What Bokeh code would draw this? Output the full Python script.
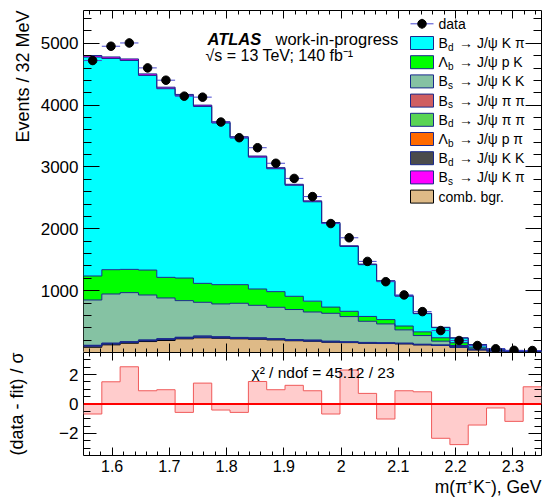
import math
import numpy as np
from bokeh.plotting import figure
from bokeh.models import (Range1d, LinearAxis, FixedTicker, Label, Span, Title,
                          CustomJSTickFormatter)
from bokeh.layouts import column
from bokeh.embed import file_html
from bokeh.resources import INLINE

# ---------------- data ----------------
bin_edges = [1.550, 1.582, 1.614, 1.646, 1.678, 1.710, 1.742, 1.774, 1.806, 1.838,
             1.870, 1.902, 1.934, 1.966, 1.998, 2.030, 2.062, 2.094, 2.126, 2.158,
             2.190, 2.222, 2.254, 2.286, 2.318, 2.350]
data_counts = [4721, 4952, 5005, 4602, 4403, 4145, 4129, 3726, 3473, 3311,
               3060, 2815, 2521, 2085, 1855, 1473, 1145, 931, 661, 355,
               194, 113, 60, 35, 32]
comb_bgr = [85, 124, 150, 177, 194, 221, 237, 231, 221, 215, 204, 190, 183, 167, 160,
            150, 145, 140, 124, 113, 86, 43, 26, 16, 10]
bd_jpsi_kk = [18, 14, 12, 12, 14, 10, 8, 6, 6, 6, 5, 5, 4, 4, 3, 3, 3, 2, 2, 2, 1, 1, 1, 0, 0]
lb_jpsi_ppi = [4, 4, 4, 4, 4, 4, 4, 4, 3, 3, 3, 3, 3, 2, 2, 2, 2, 2, 1, 1, 1, 1, 0, 0, 0]
bd_jpsi_pipi = [6, 6, 6, 6, 8, 8, 14, 10, 10, 10, 9, 8, 8, 7, 6, 6, 5, 5, 4, 3, 3, 2, 1, 1, 0]
bs_jpsi_pipi = [4, 4, 4, 4, 4, 4, 4, 4, 4, 4, 3, 3, 3, 3, 3, 2, 2, 2, 2, 1, 1, 1, 0, 0, 0]
bs_jpsi_kk = [732, 794, 792, 727, 658, 592, 545, 530, 552, 525, 507, 486, 454, 451, 407,
              342, 305, 215, 141, 63, 21, 12, 6, 3, 2]
lb_jpsi_pk = [388, 393, 376, 403, 333, 365, 306, 312, 301, 264, 253, 214, 175, 100, 85,
              78, 70, 62, 60, 55, 45, 26, 11, 5, 3]
bd_jpsi_kpi = [3540, 3415, 3378, 3147, 3050, 2947, 2860, 2614, 2372, 2132, 1987, 1795, 1607,
               1354, 1048, 837, 620, 483, 294, 165, 76, 41, 14, 1, 1]
bs_jpsi_kpi = [25, 25, 25, 25, 25, 22, 22, 20, 20, 18, 18, 16, 15, 14, 12, 10, 9, 8, 6, 5,
               3, 2, 1, 1, 0]
pulls = [-0.68, 1.51, 2.53, 0.90, 0.97, -0.57, 1.42, -0.41, -0.57, 1.53, 0.97, 1.27, 0.90,
         -0.68, 2.31, 0.72, -1.02, 0.90, 0.83, -2.33, -2.76, -1.43, -0.27, -1.18, 1.17]

x_major_ticks = [1.6, 1.7, 1.8, 1.9, 2.0, 2.1, 2.2, 2.3]
y_major_ticks_top = [1000, 2000, 3000, 4000, 5000]
y_major_ticks_bot = [-2, 0, 2]

legend_main = ["B", "Λ", "B", "B", "B", "Λ", "B", "B", "comb. bgr."]
legend_sub = ["d", "b", "s", "s", "d", "b", "d", "s", ""]
legend_rest = ["→ J/ψ K π", "→ J/ψ p K", "→ J/ψ K K", "→ J/ψ π π", "→ J/ψ π π",
               "→ J/ψ p π", "→ J/ψ K K", "→ J/ψ K π", ""]
chi2_text = "χ² / ndof = 45.12 / 23"

# ---------------- style / layout ----------------
FONT = "Liberation Sans"
NAVY = "#1a2a8c"
ERR_BLUE = "#4848d0"
X_MIN, X_MAX = bin_edges[0], bin_edges[-1]
Y_MAX = 5530
FW, FH_TOP, FH_BOT = 458, 342, 103
BL, BR = 83, 2
FRAME_L_PAGE, FRAME_T_PAGE = 83, 10

# stack: bottom -> top (values, fill, outline)
stack_layers = [
    (comb_bgr, "#deba87", "#000000"),
    (bd_jpsi_kk, "#4b4b4b", NAVY),
    (lb_jpsi_ppi, "#ff6a00", NAVY),
    (bd_jpsi_pipi, "#59d454", NAVY),
    (bs_jpsi_pipi, "#cf5e61", NAVY),
    (bs_jpsi_kk, "#85c2a3", NAVY),
    (lb_jpsi_pk, "#00ff00", NAVY),
    (bd_jpsi_kpi, "#00ffff", NAVY),
    (bs_jpsi_kpi, "#ff00ff", NAVY),
]
# legend order (top -> bottom): fill, outline
legend_styles = [
    ("#00ffff", NAVY), ("#00ff00", NAVY), ("#85c2a3", NAVY), ("#cf5e61", NAVY),
    ("#59d454", NAVY), ("#ff6a00", NAVY), ("#4b4b4b", NAVY), ("#ff00ff", NAVY),
    ("#deba87", "#000000"),
]

edges = np.asarray(bin_edges, float)
centers = 0.5 * (edges[:-1] + edges[1:])
xs = np.repeat(edges, 2)[1:-1]


def st(v):
    return np.repeat(np.asarray(v, float), 2)


def sx2x(px):
    return X_MIN + (px - FRAME_L_PAGE) / FW * (X_MAX - X_MIN)


def sy2y(py):
    return Y_MAX * (1.0 - (py - FRAME_T_PAGE) / FH_TOP)


def lab(p, x, y, text, size, xo=0, yo=0, align="left", baseline="alphabetic",
        style="normal", angle=0.0):
    p.add_layout(Label(x=x, y=y, x_offset=xo, y_offset=yo, text=text, text_font=FONT,
                       text_font_size=f"{size}px", text_font_style=style,
                       text_color="black", text_align=align, text_baseline=baseline,
                       angle=angle))


num_fmt = CustomJSTickFormatter(
    code="var s = String(Math.round(tick*10)/10); return s.replace('-', '\u2212');")


def add_axis(p, place, ticks, minor, major_len, minor_len, label_size=None, fmt=None,
             standoff=5):
    ax = LinearAxis(ticker=FixedTicker(ticks=ticks, minor_ticks=minor))
    ax.major_tick_in = major_len
    ax.major_tick_out = 0
    ax.minor_tick_in = minor_len
    ax.minor_tick_out = 0
    ax.axis_line_color = None
    ax.major_tick_line_color = "black"
    ax.minor_tick_line_color = "black"
    if label_size:
        ax.major_label_text_font = FONT
        ax.major_label_text_font_size = label_size
        ax.major_label_text_color = "black"
        ax.major_label_standoff = standoff
        if fmt is not None:
            ax.formatter = fmt
    else:
        ax.major_label_text_font_size = "1px"
        ax.major_label_text_color = None
        ax.major_label_standoff = 0
    p.add_layout(ax, place)
    return ax


def side_title(p, side, text, size, align, standoff):
    p.add_layout(Title(text=text, align=align, text_font=FONT, text_font_size=size,
                       text_font_style="normal", text_color="black", standoff=standoff,
                       offset=0), side)


x_minor = [round(1.56 + 0.02 * i, 2) for i in range(40)]
y_minor_top = list(range(0, 5600, 200))
y_minor_bot = [-3 + 0.5 * i for i in range(13)]

# ---------------- top panel ----------------
p1 = figure(frame_width=FW, frame_height=FH_TOP, x_range=Range1d(X_MIN, X_MAX),
            y_range=Range1d(0, Y_MAX), min_border_left=BL, min_border_right=BR,
            min_border_top=10, min_border_bottom=0, x_axis_location=None,
            y_axis_location=None, output_backend="svg", toolbar_location=None)
p1.grid.grid_line_color = None
p1.outline_line_color = "black"
p1.outline_line_width = 1

bottom = np.zeros(len(data_counts))
tops = []
for vals, fill, line in stack_layers:
    top = bottom + np.asarray(vals, float)
    p1.varea(x=xs, y1=st(bottom), y2=st(top), fill_color=fill)
    tops.append((top, line))
    bottom = top
for top, line in tops:
    p1.line(xs, st(top), line_color=line, line_width=1)

d = np.asarray(data_counts, float)
err = np.sqrt(d)
p1.segment(x0=edges[:-1], x1=edges[1:], y0=d, y1=d, line_color=ERR_BLUE, line_width=1)
p1.segment(x0=centers, x1=centers, y0=d - err, y1=d + err, line_color="black", line_width=1)
p1.scatter(centers, d, size=8.5, marker="circle", fill_color="black", line_color="black")

add_axis(p1, "left", y_major_ticks_top, y_minor_top, 16, 8, "17px")
side_title(p1, "left", "Events / 32 MeV", "18px", "right", 10)
add_axis(p1, "right", y_major_ticks_top, y_minor_top, 16, 8)
add_axis(p1, "below", x_major_ticks, x_minor, 9, 4)
add_axis(p1, "above", x_major_ticks, x_minor, 8, 4)

# legend
row0 = 23.3
dy = 19.2
bx0, bx1 = 410, 433
bxc = 0.5 * (bx0 + bx1)
tx = 438
yrow = sy2y(row0)
p1.segment(x0=[sx2x(bx0)], x1=[sx2x(bx1)], y0=[yrow], y1=[yrow], line_color=ERR_BLUE)
p1.segment(x0=[sx2x(bxc)], x1=[sx2x(bxc)], y0=[sy2y(row0 + 5)], y1=[sy2y(row0 - 5)],
           line_color="black")
p1.scatter([sx2x(bxc)], [yrow], size=8.5, marker="circle", fill_color="black",
           line_color="black")
lab(p1, sx2x(tx), yrow, "data", 14, baseline="middle")
for i, (m, s, r) in enumerate(zip(legend_main, legend_sub, legend_rest)):
    yc = row0 + dy * (i + 1)
    fill, line = legend_styles[i]
    p1.rect(x=[sx2x(bxc)], y=[sy2y(yc)], width=23, height=13, width_units="screen",
            height_units="screen", fill_color=fill, line_color=line, line_width=1)
    lab(p1, sx2x(tx), sy2y(yc), m, 14, baseline="middle")
    if s:
        lab(p1, sx2x(tx), sy2y(yc), s, 10, xo=9.6, yo=-4, baseline="middle")
        lab(p1, sx2x(tx), sy2y(yc), r, 14, xo=20.5, baseline="middle")

# ATLAS label
lab(p1, X_MIN, Y_MAX, "ATLAS", 16.5, xo=124, yo=-28, style="bold italic")
lab(p1, X_MIN, Y_MAX, "work-in-progress", 16.5, xo=192, yo=-28)
lab(p1, X_MIN, Y_MAX, "√s = 13 TeV;  140 fb⁻¹", 16, xo=122, yo=-45)

# ---------------- bottom panel ----------------
p2 = figure(frame_width=FW, frame_height=FH_BOT, x_range=p1.x_range,
            y_range=Range1d(-3.5, 3.5), min_border_left=BL, min_border_right=BR,
            min_border_top=0, min_border_bottom=44, x_axis_location=None,
            y_axis_location=None, output_backend="svg", toolbar_location=None)
p2.grid.grid_line_color = None
p2.outline_line_color = "black"
p2.outline_line_width = 1

p2.varea(x=xs, y1=0, y2=st(pulls), fill_color="#ffcccc")
p2.line(xs, st(pulls), line_color="#f05a5a", line_width=1)
p2.add_layout(Span(location=0, dimension="width", line_color="#ff0000", line_width=2))

ax_l2 = add_axis(p2, "left", y_major_ticks_bot, y_minor_bot, 13, 7, "17px", num_fmt)
ax_l2.axis_label = "(data - fit) / σ"
ax_l2.axis_label_text_font = FONT
ax_l2.axis_label_text_font_size = "18px"
ax_l2.axis_label_text_font_style = "normal"
ax_l2.axis_label_text_color = "black"
ax_l2.axis_label_standoff = 29
add_axis(p2, "right", y_major_ticks_bot, y_minor_bot, 13, 7)
add_axis(p2, "below", x_major_ticks, x_minor, 8, 4, "16px", num_fmt, standoff=4)
side_title(p2, "below", "m(π⁺K⁻), GeV", "17.5px", "right", 0)
add_axis(p2, "above", x_major_ticks, x_minor, 8, 4)

lab(p2, X_MIN, 3.5, chi2_text, 15.5, xo=168, yo=-20, baseline="middle")

layout = column(p1, p2)
open("out.html", "w").write(file_html(layout, INLINE))
